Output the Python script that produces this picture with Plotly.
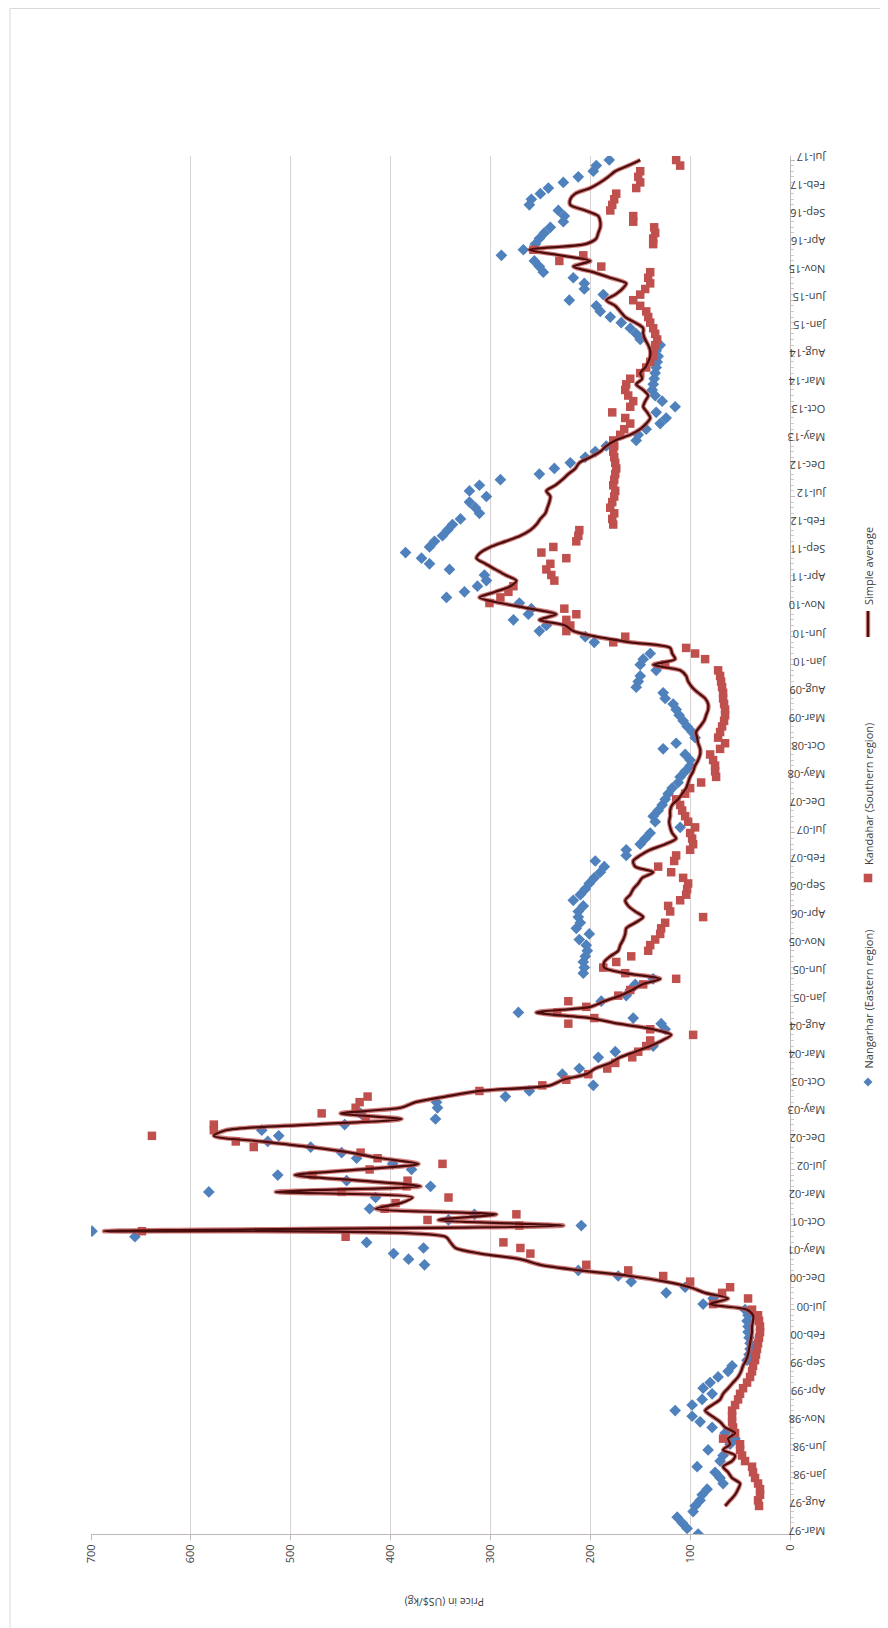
import plotly.graph_objects as go

# Category axis: monthly observations Mar-97 .. Jul-17 (246 categories, labelled every 5th)
tick_labels = [
    "Mar-97", "Aug-97", "Jan-98", "Jun-98", "Nov-98", "Apr-99", "Sep-99", "Feb-00", "Jul-00", "Dec-00",
    "May-01", "Oct-01", "Mar-02", "Jul-02", "Dec-02", "May-03", "Oct-03", "Mar-04", "Aug-04", "Jan-05",
    "Jun-05", "Nov-05", "Apr-06", "Sep-06", "Feb-07", "Jul-07", "Dec-07", "May-08", "Oct-08", "Mar-09",
    "Aug-09", "Jan-10", "Jun-10", "Nov-10", "Apr-11", "Sep-11", "Feb-12", "Jul-12", "Dec-12", "May-13",
    "Oct-13", "Mar-14", "Aug-14", "Jan-15", "Jun-15", "Nov-15", "Apr-16", "Sep-16", "Feb-17", "Jul-17",
]
label_step = 5

# Nangarhar (Eastern region), US$/kg
nangarhar = [
    92, 103, 108, 113, 97, 95, 90, 88, 83, 67,
    70, 75, 93, 70, 67, 82, 60, 55, 65, 78,
    90, 98, 115, 98, 88, 78, 87, 80, 72, 62,
    58, 43, 41, 40, 40, 41, 42, 42, 43, 42,
    45, 87, 77, 124, 105, 159, 172, 212, 366, 382,
    397, 367, 424, 656, 699, 209, 342, 316, 421, None,
    415, 582, 360, 444, 513, 379, 398, 434, 449, 480,
    523, 512, 529, 446, 355, 430, 353, 354, 285, 261,
    197, None, 228, 211, None, 192, 175, 137, None, None,
    125, 129, 157, 272, None, 189, 164, 160, 155, 137,
    207, 206, 207, 205, 203, 204, 211, 201, 214, 210,
    212, 212, 207, 217, 210, 205, 201, 196, 190, 186,
    195, 164, 164, 150, 145, 140, 110, 135, 137, 132,
    128, 125, 122, 118, 112, 110, 105, 100, 100, 105,
    127, 114, 95, 98, 103, 107, 111, 114, 117, 125,
    127, 154, 152, 150, 134, 150, 147, 140, None, 196,
    205, 251, 244, 277, 262, 259, 271, 344, 326, 313,
    304, 306, 341, 361, 369, 385, 361, 356, 348, 343,
    338, 330, 311, 315, 321, 304, 321, 311, 290, 251,
    236, 220, 205, 195, 184, 154, 152, 144, 130, 124,
    134, 115, 128, 135, 138, 137, 136, 135, 134, 133,
    132, 134, 130, 150, 154, 160, 169, 180, 190, 194,
    221, 187, 206, 206, 217, 247, 251, 256, 289, 267,
    255, 251, 246, 240, 227, 226, 232, 261, 259, 250,
    242, 227, 212, 197, 194, 181,
]

# Kandahar (Southern region), US$/kg
kandahar = [
    None, None, None, None, None, 31, 32, 30, 30, 32,
    35, 37, 38, 45, 48, 50, 50, 67, 55, 57,
    58, 58, 58, 55, 52, 50, 47, 43, 40, 38,
    37, 35, 34, 33, 32, 31, 30, 30, 31, 32,
    38, 77, 42, 68, 60, 100, 127, 162, 204, None,
    260, 270, 287, 445, 649, 271, 363, 274, 406, 395,
    342, 449, 384, 383, 478, 421, 348, 413, 430, 537,
    555, 639, 577, 577, 425, 469, 435, 431, 423, 311,
    248, 224, 202, 183, 175, 158, 152, 144, 140, 97,
    140, 222, 196, 233, 204, 222, 172, 160, 147, 114,
    165, 187, 174, 159, 142, 140, 135, 130, 129, 125,
    87, 120, 122, 110, 104, 103, 102, 107, 119, 132,
    116, 114, 100, 97, 98, 100, 95, 102, 105, 108,
    110, 114, 105, 100, 89, 74, 75, 75, 77, 80,
    70, 65, 72, 70, 68, 66, 65, 65, 66, 67,
    67, 68, 69, 70, 72, 125, 85, 95, 104, 177,
    165, 224, 220, 224, 214, 226, 301, 290, 282, 277,
    236, 239, 244, 240, 224, 249, 237, 214, 212, 211,
    177, 178, 176, 180, 178, 176, 175, 177, 176, 175,
    174, 175, 176, 177, 176, 177, 170, 166, 160, 165,
    178, 160, 157, 162, 165, 164, 160, 150, 144, 140,
    137, 137, 135, 133, 135, 137, 140, 142, 144, 150,
    157, 150, 145, 140, 142, 140, 189, 231, 207, 257,
    137, 137, 135, 136, 157, 157, 180, 178, 176, 174,
    154, 150, 152, 150, 110, 114,
]

# Simple average, US$/kg
simple_average = [
    None, None, None, None, None, 65, 60, 55, 52, 50,
    58, 62, 67, 58, 55, 67, 60, 62, 55, 65,
    70, 78, 85, 78, 70, 67, 62, 57, 52, 49,
    47, 44, 42, 41, 40, 39, 38, 38, 37, 37,
    43, 80, 62, 85, 100, 125, 160, 210, 250, 270,
    310, 335, 340, 345, 687, 227, 352, 294, 415, 390,
    378, 515, 370, 430, 496, 430, 372, 410, 440, 480,
    530, 577, 565, 480, 389, 450, 390, 375, 345, 311,
    240, 227, 204, 195, 180, 170, 155, 140, 128, 119,
    137, 172, 200, 254, 200, 186, 170, 158, 148, 130,
    165, 186, 186, 180, 172, 170, 167, 165, 164, 155,
    147, 155, 162, 165, 160, 157, 152, 148, 137, 155,
    157, 150, 140, 125, 114, 118, 120, 121, 120, 120,
    118, 112, 108, 104, 102, 100, 97, 95, 92, 90,
    90, 92, 93, 94, 90, 86, 84, 82, 82, 85,
    92, 98, 102, 104, 110, 137, 115, 118, 120, 160,
    194, 217, 225, 251, 234, 260, 290, 311, 295, 280,
    274, 285, 295, 305, 314, 310, 300, 285, 270, 260,
    254, 250, 245, 243, 241, 240, 244, 235, 228, 222,
    215, 211, 200, 190, 184, 175, 160, 150, 144, 140,
    143, 147, 145, 142, 147, 154, 148, 150, 145, 142,
    140, 140, 142, 145, 147, 147, 155, 165, 170, 175,
    184, 175, 168, 164, 180, 197, 217, 200, 230, 261,
    205, 194, 192, 190, 190, 192, 205, 220, 220, 215,
    200, 190, 182, 175, 162, 150,
]

series_names = ["Nangarhar (Eastern region)", "Kandahar (Southern region)", "Simple average"]
price_ticks = [0, 100, 200, 300, 400, 500, 600, 700]

BLUE = "#4F81BD"
RED = "#C0504D"
DARK = "#4A0D0D"
GRID = "#D9D2D2"
AXIS = "#BFB8B8"
TXT = "#404040"

cats = list(range(len(nangarhar)))
tickvals = [i * label_step for i in range(len(tick_labels))]

# The page body adds an 8px margin, so the figure is laid out 8px smaller/shifted.
OFF = 8
W, H = 888 - OFF, 1628 - OFF
# plot area in page pixels of the reference
PL, PR, PT, PB = 91, 790, 156, 1534
L, R, T, B = PL - OFF, PR - OFF, PT - OFF, PB - OFF


def px(x):  # page x -> paper
    return (x - PL) / (PR - PL)


def py(y):  # page y -> paper
    return (PB - y) / (PB - PT)


fig = go.Figure()
fig.add_trace(go.Scatter(
    x=nangarhar, y=cats, mode="markers", name=series_names[0],
    marker=dict(symbol="diamond", size=9, color=BLUE, line=dict(width=0)),
))
fig.add_trace(go.Scatter(
    x=kandahar, y=cats, mode="markers", name=series_names[1],
    marker=dict(symbol="square", size=8.5, color=RED, line=dict(width=0)),
))
fig.add_trace(go.Scatter(
    x=simple_average, y=cats, mode="lines", name=series_names[2], showlegend=False,
    line=dict(color="rgba(192,80,77,0.75)", width=4.5, shape="spline", smoothing=0.8),
    connectgaps=True, hoverinfo="skip",
))
fig.add_trace(go.Scatter(
    x=simple_average, y=cats, mode="lines", name=series_names[2],
    line=dict(color=DARK, width=2.2, shape="spline", smoothing=0.8),
    connectgaps=True,
))

ymax = 245 + (160 - PT) / ((PB - 160) / 245.0)

fig.update_layout(
    width=W, height=H,
    margin=dict(l=L, r=W - R, t=T, b=H - B, pad=0),
    paper_bgcolor="white", plot_bgcolor="white",
    showlegend=False,
    font=dict(family="Open Sans, Liberation Sans, sans-serif", size=11, color=TXT),
    xaxis=dict(
        range=[700, 0], tickmode="array", tickvals=price_ticks,
        ticktext=[str(v) for v in price_ticks],
        tickangle=-90, showgrid=True, gridcolor=GRID, gridwidth=1,
        showline=True, linecolor=AXIS, linewidth=1,
        ticks="outside", ticklen=5, tickcolor=AXIS,
        zeroline=False, tickfont=dict(size=11, color=TXT),
    ),
    yaxis=dict(
        range=[0, ymax], side="right", tickmode="array", tickvals=tickvals,
        ticktext=tick_labels, tickangle=180, ticklabelstandoff=28, showgrid=False,
        showline=True, linecolor=AXIS, linewidth=1,
        ticks="outside", ticklen=4, tickcolor=AXIS,
        minor=dict(tickmode="linear", tick0=0, dtick=1, ticks="outside", ticklen=3, tickcolor="#CFC8C8"),
        zeroline=False, tickfont=dict(size=11, color=TXT),
    ),
)

shapes = []
# outer chart frame (left and top edges visible in the reference)
shapes.append(dict(type="line", xref="paper", yref="paper",
                   x0=px(10), x1=px(10), y0=py(1628), y1=py(8.5),
                   line=dict(color="#D9D9D9", width=1)))
shapes.append(dict(type="line", xref="paper", yref="paper",
                   x0=px(10), x1=px(888), y0=py(8.5), y1=py(8.5),
                   line=dict(color="#D9D9D9", width=1)))

# legend (rotated)
LX = 868
d = 4.5
DY, SY, LY0, LY1 = 1082, 878, 637, 611
shapes.append(dict(type="path", xref="paper", yref="paper",
                   path=f"M {px(LX)},{py(DY - d)} L {px(LX + d)},{py(DY)} L {px(LX)},{py(DY + d)} L {px(LX - d)},{py(DY)} Z",
                   fillcolor=BLUE, line=dict(width=0)))
s = 4.3
shapes.append(dict(type="rect", xref="paper", yref="paper",
                   x0=px(LX - s), x1=px(LX + s), y0=py(SY + s), y1=py(SY - s),
                   fillcolor=RED, line=dict(width=0)))
shapes.append(dict(type="line", xref="paper", yref="paper",
                   x0=px(LX), x1=px(LX), y0=py(LY0), y1=py(LY1),
                   line=dict(color="rgba(192,80,77,0.75)", width=4.5)))
shapes.append(dict(type="line", xref="paper", yref="paper",
                   x0=px(LX), x1=px(LX), y0=py(LY0), y1=py(LY1),
                   line=dict(color=DARK, width=2.2)))

annotations = [
    dict(text=series_names[0], xref="paper", yref="paper", x=px(LX), y=py(DY - 11),
         xanchor="center", yanchor="bottom", textangle=-90, showarrow=False,
         font=dict(size=11, color=TXT)),
    dict(text=series_names[1], xref="paper", yref="paper", x=px(LX), y=py(SY - 11),
         xanchor="center", yanchor="bottom", textangle=-90, showarrow=False,
         font=dict(size=11, color=TXT)),
    dict(text=series_names[2], xref="paper", yref="paper", x=px(LX), y=py(LY1 - 4),
         xanchor="center", yanchor="bottom", textangle=-90, showarrow=False,
         font=dict(size=11, color=TXT)),
    dict(text="Price in (US$/kg)", xref="paper", yref="paper", x=px(445), y=py(1602),
         xanchor="center", yanchor="middle", textangle=180, showarrow=False,
         font=dict(size=10.5, color=TXT)),
]

fig.update_layout(shapes=shapes, annotations=annotations)

fig.write_html("out.html")
